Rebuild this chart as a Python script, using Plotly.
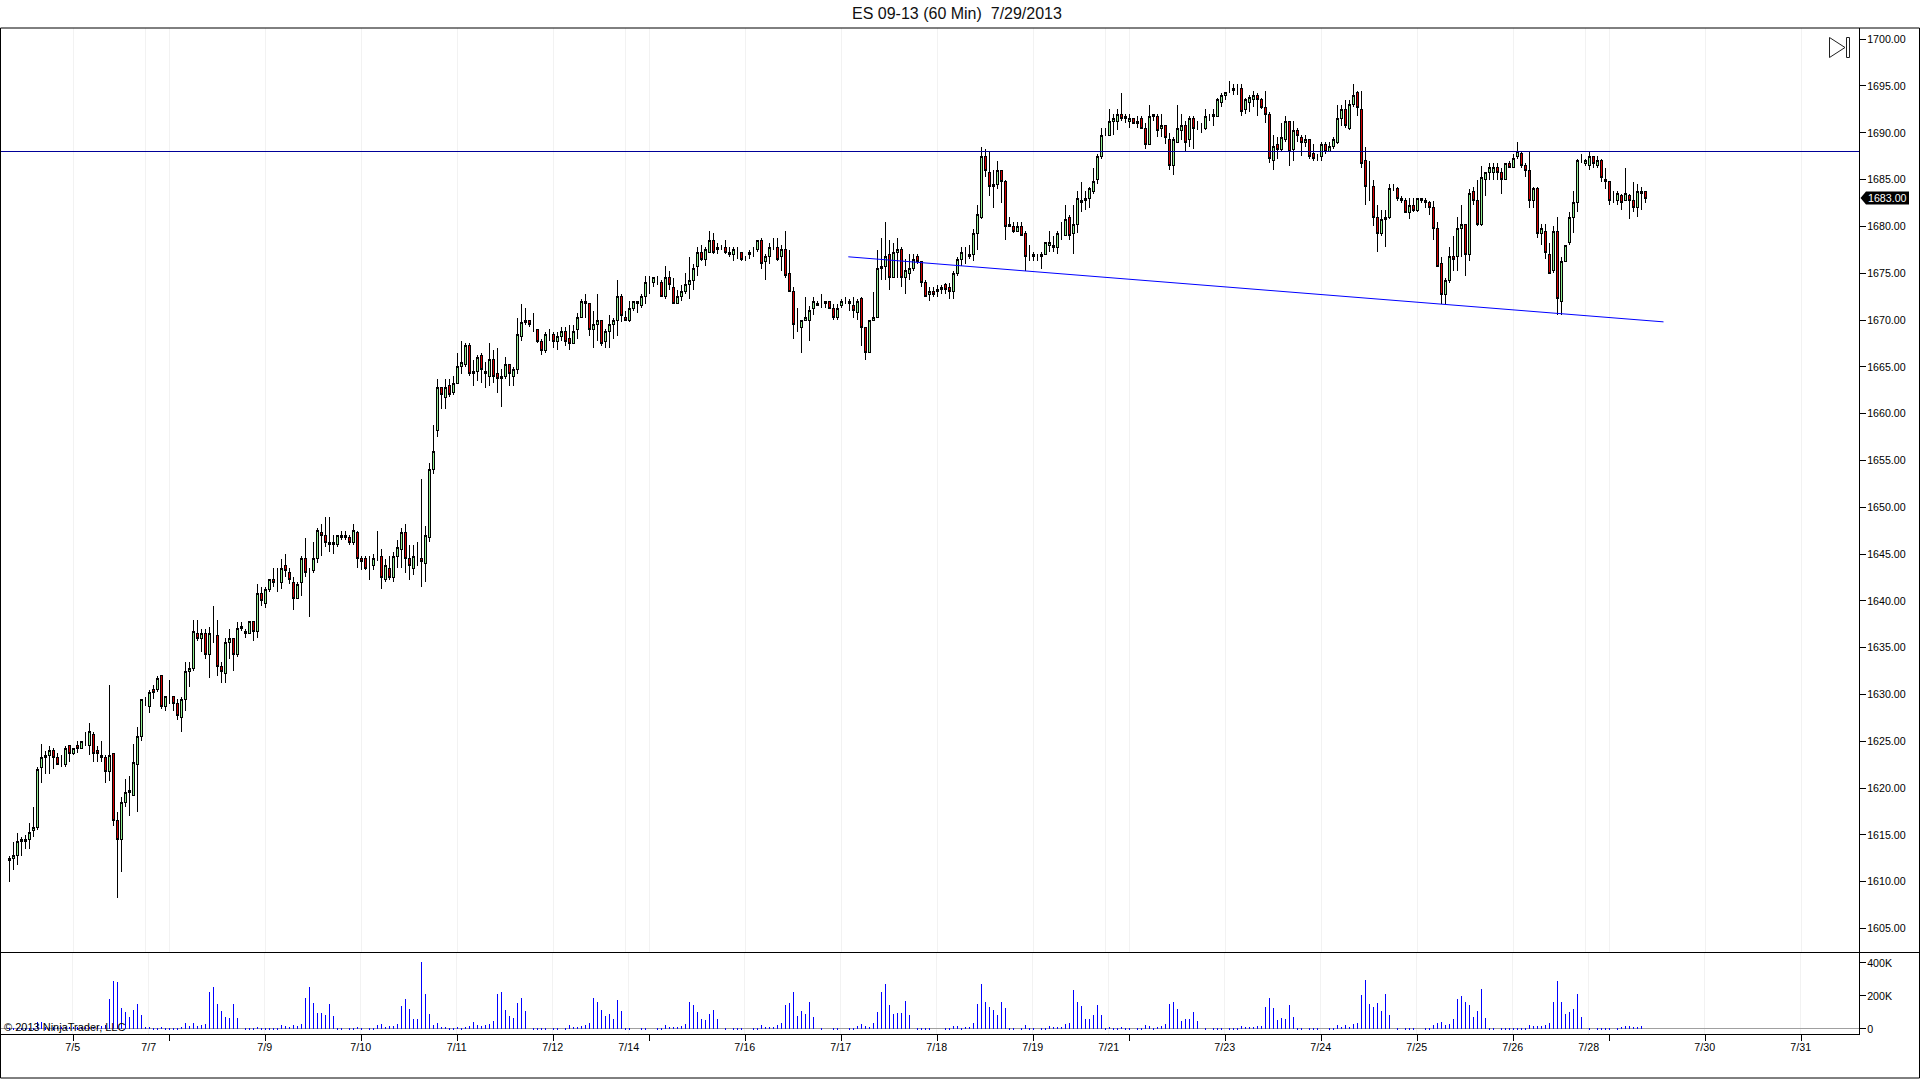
import plotly.graph_objects as go

opens = [
1612.25,1612.5,1612.75,1614.25,1614.25,1614.5,1615.5,1615.75,1622.25,1623.25,
1623.5,1624,1623.25,1622.5,1622.5,1624.5,1623.75,1624.5,1624.25,1625,
1624.5,1625.75,1624,1623.5,1623.25,1621.75,1623.75,1616.5,1614.5,1618.5,
1619.75,1619.25,1622.5,1625.5,1629.5,1628.75,1630.5,1630.5,1632,1628.75,
1629.75,1629.75,1629,1627.5,1629.5,1632.5,1632.75,1636.5,1636,1636.5,
1634.25,1636.25,1636.25,1633,1632.25,1635.5,1636,1634.25,1637.25,1636.75,
1636.5,1637.75,1636.75,1640.75,1639.75,1641.25,1642.25,1642,1642,1643.75,
1643,1642,1640.25,1642,1644.5,1643.25,1643.25,1644.5,1647.25,1647,
1646,1646.25,1646,1647,1647,1646.75,1646.25,1647.25,1644.5,1644.5,
1643.75,1643.75,1644.75,1644.75,1642.25,1643.5,1642.5,1644.75,1645.5,1647.25,
1644.5,1643.5,1645,1644.5,1644,1646.75,1654,1658.25,1662.75,1661.75,
1663,1662.25,1663.25,1665,1665.25,1667.25,1664.25,1664.5,1666.25,1664.5,
1664,1665.75,1664.25,1663.75,1664,1665.25,1664,1664.75,1668.25,1669.75,
1670,1669,1669,1667.75,1666.75,1668.5,1668.5,1667.75,1668.25,1668.75,
1668,1667.5,1669,1670.25,1672,1671.75,1669,1669.5,1670,1667.75,
1668.75,1669.5,1670,1672.5,1670.25,1670,1671.25,1672,1671.5,1672.5,
1674,1674,1674.25,1674,1672.5,1674.5,1673.5,1671.75,1672.5,1673,
1673.75,1674.25,1675.75,1677.25,1676.5,1677.25,1678.5,1677.5,1677.5,1677.75,
1677.25,1677,1677.25,1677.25,1676.75,1677,1677.25,1677.5,1678.5,1676.25,
1676.75,1677.75,1677.75,1676.75,1677.5,1675,1673,1669.5,1669.25,1670,
1670,1671.25,1671.75,1671.75,1671.75,1672,1671.25,1670.25,1671.5,1672,
1672,1671.5,1670.75,1672.25,1669.25,1666.5,1670,1670.25,1675.5,1675.75,
1677,1674.5,1677.25,1677.5,1674.5,1675,1675.5,1676.75,1676.25,1674,
1672.75,1673,1673,1673.25,1673.75,1673.5,1673,1675,1676.5,1677,
1676.75,1677,1679.25,1681,1687.5,1685.75,1684.25,1684.5,1686,1684.75,
1680.25,1680,1679.5,1680,1679.25,1676.75,1677,1676.75,1676.75,1677,
1678,1678,1677.75,1679,1679,1681,1679.25,1680.25,1682.75,1682.75,
1683,1683.75,1685,1687.5,1689.75,1689.75,1691.25,1691.25,1692,1691.75,
1691.25,1691.5,1691,1691.5,1690.5,1688.75,1692,1691.75,1690.5,1690.75,
1689.25,1686.5,1689,1690.25,1690.75,1689.25,1691.5,1690.75,1690.75,1690.5,
1691.75,1691.75,1691.75,1693.25,1694,1694.75,1694.75,1694.5,1694.75,1692.5,
1693.25,1693.5,1694,1693.5,1692.75,1692,1687,1688.75,1688.25,1689.25,
1691.25,1688.25,1690.25,1689.5,1689,1689.25,1687.75,1687.5,1687.5,1688.75,
1688,1688.5,1689,1691.5,1692.5,1690.5,1693,1694.25,1692.5,1687,
1684.5,1684.25,1681,1679.25,1680.75,1681,1684,1684,1683,1682.75,
1681.5,1682.25,1681.75,1683,1682.75,1682.5,1682,1679.75,1676,1672.75,
1674.25,1676.75,1676.75,1679.75,1680.25,1677,1683.75,1682.75,1680.25,1685,
1685.75,1685.75,1686.25,1685.75,1685,1686.75,1686.25,1687.5,1687.75,1686.5,
1686,1682.75,1684,1679.25,1679.5,1677,1675.25,1679.5,1672,1676.25,
1678.25,1681,1682.5,1687,1686.75,1686.5,1687.5,1686.5,1687,1685,
1684.75,1683,1682.75,1683.25,1682.75,1683.25,1682.75,1682,1683.75,1683.75,
]

highs = [
1612.75,1614.25,1615.25,1614.75,1615,1616.25,1618,1622.25,1624.75,1624,
1624.5,1624.25,1623.75,1623.5,1624.5,1624.5,1624.25,1625,1625,1626,
1627,1626,1624.5,1625,1623.5,1631,1623.75,1617.5,1619,1621,
1621.25,1624.75,1626.5,1629.5,1629.75,1630.5,1631,1632,1632,1629.75,
1631.5,1629.75,1629.5,1629.75,1633.5,1633.5,1638,1638,1637,1637,
1637.25,1639.5,1638,1633.5,1636,1637,1636,1637.75,1637.75,1637,
1637.75,1637.75,1641.75,1641.5,1641.5,1642.25,1643.5,1643.5,1644.5,1645,
1643.5,1642.5,1642,1644.75,1646.75,1643.5,1646.25,1647.75,1648.25,1649,
1649,1647,1647,1647.5,1647.5,1647,1648.25,1647.5,1644.75,1644.75,
1644.75,1645,1647.5,1645.5,1644.5,1644.75,1645.25,1646.5,1647.75,1648.25,
1646,1646,1646.25,1653,1648,1654.75,1658.75,1663.75,1662.75,1663.75,
1663.75,1664,1666.5,1667.75,1667.5,1667.5,1665.75,1666.25,1666.5,1665.5,
1667.5,1666.75,1667,1664.75,1666,1665.25,1665,1670.25,1671.75,1671.25,
1670,1670.75,1669,1668,1668.75,1669,1668.75,1668.75,1669.25,1669.25,
1669.5,1669.5,1670.75,1672.25,1672.75,1671.75,1671,1672.75,1670,1669,
1670.5,1670.25,1674.25,1672.75,1671,1672,1672,1672,1672.75,1674.75,
1674.75,1674.5,1674.75,1674.25,1675.75,1675.25,1674.5,1673.25,1673.75,1675,
1676.75,1676,1677.75,1678,1677.75,1679.5,1679.25,1678.25,1678,1678.5,
1677.75,1677.75,1677.75,1677.25,1676.75,1677.5,1677.75,1678.5,1678.75,1677,
1678.25,1678.75,1678.75,1678,1679.5,1677.5,1673.5,1671.25,1670,1672.5,
1671.5,1672.5,1672,1672.75,1672,1672,1671.75,1671.75,1672.25,1672.5,
1672.25,1672.5,1672.25,1672.5,1669.25,1670,1673,1677.5,1678.75,1680.5,
1678.5,1678.25,1678.75,1677.75,1676.5,1677,1677,1677,1676.25,1674.25,
1673.5,1673.5,1673.75,1673.75,1674,1674,1675.25,1676.75,1677.75,1677.75,
1678,1679.75,1682.25,1688.5,1688.25,1688,1686,1687,1686,1685,
1681,1680.5,1680.5,1680.5,1679.5,1678,1677.25,1677,1677.25,1678.25,
1679.5,1679,1679.5,1680.5,1682.25,1681.25,1682.25,1683.75,1684.75,1683.75,
1684.25,1686.25,1687.75,1690.5,1690.5,1692.5,1692,1692.5,1694.25,1692,
1692,1691.5,1691.75,1691.75,1691,1693,1692,1692,1692,1690.75,
1690,1689.5,1693,1692,1691.25,1691.75,1691.75,1691.25,1691,1692.5,
1692,1692.5,1693.75,1694.25,1694.25,1695.5,1695.25,1695.25,1695.25,1693.75,
1694,1694.5,1694.25,1693.75,1694.5,1692.25,1689.75,1689.5,1691,1691.75,
1691.25,1691.25,1690.5,1689.75,1689.75,1689.25,1688.75,1687.75,1689,1689,
1689,1689.5,1693,1693,1693.5,1693.5,1695.25,1694.5,1694.5,1688.5,
1687,1685,1682.25,1681.75,1681.75,1684.5,1684.5,1684.25,1683.25,1683,
1683,1683,1683,1683,1683,1682.75,1682.75,1680.5,1676.75,1674.5,
1677.75,1679,1681,1682.25,1680.25,1684,1684.25,1685,1686.5,1685.75,
1686.75,1686.75,1686.75,1686.25,1686.75,1687,1687.75,1689,1688,1686.75,
1688,1684.25,1684.25,1680.25,1680.25,1678.25,1680,1681,1676.75,1678,
1681.5,1683.75,1687.25,1687.75,1687.25,1688,1687.5,1687.5,1687.25,1686.25,
1684.75,1683.75,1683.75,1683.5,1686.25,1683.5,1684.75,1684.5,1684.25,1683.75,
]

lows = [
1610,1611.25,1611.75,1612.75,1613.5,1613.5,1614.75,1615.5,1620.5,1621.5,
1621.5,1622,1622.5,1622.25,1622.25,1622.75,1623.5,1623.75,1624.25,1624.5,
1623.5,1622.75,1622.75,1622.75,1620.5,1620.75,1616,1608.25,1611,1618,
1617,1619.25,1617.5,1625,1628.75,1628,1629.5,1630.25,1628.5,1628.25,
1629,1628.25,1627.25,1626,1628.25,1630.75,1632.5,1635.75,1634.5,1633.75,
1631.75,1635.5,1632,1631.25,1631.25,1633.75,1632.5,1634,1636.75,1636,
1636.5,1635.75,1636,1639.5,1639.25,1641,1641.5,1641,1641.25,1642.5,
1641.75,1639,1640.25,1640.5,1642.5,1638.25,1643,1644,1644.75,1645.75,
1645.25,1645,1645.75,1646.5,1646.5,1646,1646,1643.5,1643.25,1643.25,
1642.25,1643.25,1644.25,1641.25,1642,1642.25,1642,1643.5,1643.5,1643,
1642.25,1642.75,1643.75,1641.5,1642,1646.25,1653.5,1657.5,1660.5,1660.5,
1661.75,1662,1663.25,1664.25,1665,1664,1663,1663.5,1663.25,1662.75,
1663,1663.25,1662.25,1660.75,1663.75,1663,1663,1664.25,1667.75,1669.5,
1669.25,1668.75,1667.5,1666.25,1666.5,1667.75,1667,1666.75,1667.75,1667.25,
1666.75,1667.5,1668,1670.25,1670.25,1668.25,1667,1667.75,1667.25,1667,
1667,1668,1668.25,1669.75,1670,1669.75,1671,1670.75,1671.25,1671.75,
1672.75,1673.5,1673.75,1672.5,1672.25,1673.25,1671.75,1671.75,1672,1672.75,
1672.25,1673.25,1674.75,1676.25,1675.75,1677.25,1677,1677,1677.5,1677,
1676.75,1676.25,1676.5,1676.25,1676.25,1676.5,1676.75,1677.25,1675.5,1674.25,
1676,1677.5,1676.25,1675.25,1674.5,1673,1668,1668.75,1666.5,1670,
1667.75,1670.5,1671.5,1671.25,1671.25,1671.25,1670,1670,1671.25,1671.75,
1671,1670.25,1670,1667.25,1665.75,1666.5,1670,1670.25,1674.25,1674.25,
1673.25,1674.5,1674.5,1673.5,1672.75,1674.25,1675.25,1676,1673.5,1672.5,
1672,1672.5,1672.5,1672.75,1672.75,1672.25,1672.25,1674.75,1675.75,1676,
1676.5,1676.25,1677.5,1680.75,1685.25,1683.25,1682,1684,1682.5,1678.5,
1680,1679.25,1679.5,1679,1675.25,1676.25,1676.25,1676.25,1675.5,1677,
1677.25,1677.25,1677,1678.5,1679,1678.5,1677,1679.25,1681.5,1681.75,
1682,1683.5,1684.5,1687.25,1689.75,1689.75,1689.75,1690.25,1691.25,1691,
1690.5,1691,1690.5,1690.5,1688.25,1688.75,1691.25,1689.5,1689.5,1688.75,
1686,1685.5,1689,1689.25,1688,1688.5,1688.25,1690.25,1690,1690.25,
1691.25,1690.75,1691.75,1692.75,1693.5,1694.25,1694,1694,1691.75,1692,
1692.25,1692.75,1691.75,1692.5,1691,1686.75,1686,1687.25,1688,1689,
1686.5,1687,1689,1687.5,1688.5,1687.25,1687,1687,1687,1687.75,
1688,1688.25,1688.75,1690.75,1690.5,1690.25,1692.75,1691.75,1686.25,1682.25,
1682.75,1680,1677.25,1679,1677.75,1680.75,1683.75,1682.75,1682.5,1681.5,
1680.75,1681.5,1681.5,1682.5,1682,1681.25,1678.5,1675.75,1671.75,1671.75,
1674,1675.25,1675.25,1676.75,1674.75,1676.25,1682.25,1680,1680,1683.25,
1685,1685,1685,1683.5,1685,1686.25,1686.25,1687.25,1686.25,1685.25,
1682,1682,1678.75,1678,1676.5,1675,1675,1670.5,1670.5,1676.25,
1678,1679.25,1681.5,1686.75,1686.5,1686,1686.25,1686.25,1684.75,1684,
1682.25,1682.5,1682.25,1681.75,1682.75,1680.75,1681.5,1681,1681.75,1682.5,
]

closes = [
1612.5,1612.75,1614.25,1614.5,1614.5,1615.25,1615.75,1622,1623.25,1623.5,
1624,1623.25,1622.5,1622.5,1624.25,1623.75,1624.25,1624.25,1625,1625,
1626,1623.75,1623.75,1623.25,1621.75,1623.5,1616.5,1614.5,1618.5,1619.5,
1619.5,1622.75,1625.5,1629.5,1629.5,1630.25,1630.25,1631.75,1628.75,1629.75,
1629.75,1629,1627.75,1629.5,1632.5,1632.75,1636.75,1636,1636.5,1634.25,
1636.5,1636.25,1633,1632.5,1635.5,1636,1634.25,1637,1637,1636.5,
1637.75,1636.75,1640.75,1640,1641.25,1642.25,1642,1642,1643.5,1643.25,
1642.25,1640.25,1641.75,1644.5,1643,1643.25,1644.5,1647.5,1647,1646.25,
1646.25,1646,1647,1646.75,1646.75,1646.25,1647.5,1644.5,1644.25,1643.5,
1643.75,1644.5,1644.75,1642.5,1643.75,1642.5,1644.75,1645.75,1647.25,1644.5,
1643.75,1644.75,1645,1644.25,1647,1654,1656,1662.75,1662,1662.75,
1662,1663.25,1665,1665.5,1667.25,1664.25,1664.5,1666,1664.75,1664.25,
1665.75,1664,1663.75,1664,1665.25,1664.25,1664.75,1668.5,1669.75,1670,
1669.5,1669,1667.75,1666.75,1668.5,1668.5,1667.75,1668.25,1668.75,1667.75,
1667.5,1668.75,1670.25,1672,1671.75,1669,1669.5,1670,1667.5,1668.75,
1669.5,1670,1672.5,1670.5,1670,1671.25,1672,1671.75,1672.5,1674,
1674,1674.5,1674.25,1672.5,1674.5,1673.75,1671.75,1672.5,1673,1673.75,
1674.25,1675.5,1677.25,1676.5,1677.5,1678.5,1677.25,1677.75,1677.5,1677.25,
1677,1677.5,1677.25,1676.5,1676.75,1677.25,1677.25,1678.5,1676,1676.75,
1677.75,1677.75,1676.5,1677.5,1674.75,1673,1669.5,1669.5,1670,1670.25,
1671,1672,1671.5,1671.75,1672,1671.25,1670.25,1671.25,1672,1672,
1671.75,1671,1672,1669.25,1666.5,1670,1670.25,1675.5,1675.75,1676.75,
1674.5,1677.25,1677.5,1674.5,1675.25,1675.5,1676.5,1676.25,1674,1672.5,
1673,1672.75,1673.25,1673.5,1673.25,1673,1675,1676.5,1677.25,1677,
1677,1679.25,1681.25,1687.5,1686,1684.25,1684.5,1686,1684.75,1680,
1680,1679.5,1680,1679,1676.75,1676.75,1676.75,1676.75,1677,1678.25,
1678.25,1677.75,1679.25,1679,1680.75,1679,1680.25,1683,1682.5,1683,
1684,1684.75,1687.5,1689.75,1689.75,1691.25,1691.5,1692,1691.5,1691.5,
1691.5,1691,1691.25,1690.5,1688.75,1691.75,1691.75,1690.25,1690.75,1689.5,
1686.5,1689.25,1690.5,1690.75,1689,1691.5,1690.5,1690.75,1690.75,1691.75,
1691.75,1692,1693.5,1694,1694.25,1694.75,1694.5,1694.5,1692.25,1693.5,
1693.75,1694,1693.5,1692.75,1692,1687.25,1688.5,1688.25,1689.5,1691.25,
1688,1690.25,1689.75,1689,1689.25,1687.5,1687.25,1687.5,1688.75,1688,
1688.5,1689.25,1691.5,1692.5,1690.75,1693,1694,1692.75,1686.75,1684.25,
1684.5,1681,1679.25,1680.75,1681,1684,1684,1683,1682.75,1681.5,
1682.25,1681.75,1683,1682.75,1682.5,1682,1679.75,1675.75,1672.75,1674.25,
1676.75,1676.5,1679.75,1680.25,1677,1683.5,1682.75,1680.25,1685.25,1685.75,
1686.25,1686.25,1685.75,1685,1686.75,1686.25,1687.25,1688,1686.5,1686,
1682.75,1684,1679.25,1679.75,1677.25,1675,1679.5,1672.25,1676.25,1678,
1681,1682.5,1687,1687,1687,1687.5,1686.75,1687,1685.25,1684.75,
1682.75,1683,1683.5,1682.5,1683.5,1682.75,1682,1683.75,1683.5,1683,
]

volume_k = [
8,8,8,8,8,10,10,42,46,12,14,12,16,16,14,16,16,12,14,14,16,16,22,22,28,
186,296,289,131,107,77,119,156,89,14,16,10,10,16,10,10,10,10,16,40,22,40,22,28,34,
228,259,156,113,77,71,156,71,0,10,10,10,16,10,10,10,10,10,28,22,16,28,22,34,192,
259,162,101,101,89,156,83,10,10,0,10,10,16,10,0,10,10,28,34,16,22,22,34,143,186,
125,65,65,410,216,95,28,40,16,16,10,10,16,
10,16,22,46,28,22,28,34,53,216,228,119,83,71,162,192,113,0,10,10,10,10,0,10,10,
0,10,28,16,16,22,28,40,192,168,119,83,95,65,180,113,10,10,0,0,10,10,0,0,10,
10,28,16,16,16,22,34,168,150,107,65,59,95,119,65,0,10,0,10,10,10,0,0,10,10,
28,16,16,16,28,40,150,162,228,83,113,95,168,77,0,10,0,0,10,10,0,0,10,10,22,
34,22,16,40,107,228,277,150,95,101,101,174,89,0,10,
10,10,10,0,0,0,10,10,22,22,10,16,16,40,156,277,168,137,119,89,168,131,10,10,0,
10,28,10,10,0,10,10,22,16,16,16,34,40,240,168,143,65,65,89,150,89,10,16,10,10,
16,10,10,0,10,10,28,22,10,16,22,34,156,168,125,53,65,65,107,53,0,10,0,10,10,
10,0,10,10,10,22,16,16,16,22,22,137,192,131,59,71,65,150,77,10,10,0,10,10,10,
0,0,10,10,28,16,28,16,34,40,210,301,156,137,162,
113,216,89,0,10,0,10,10,10,0,0,10,10,28,40,46,28,34,65,186,204,168,150,77,113,
246,71,10,10,0,10,10,10,10,10,10,10,28,22,22,22,28,40,168,295,168,95,107,125,216,
77,0,10,0,10,10,10,10,0,10,16,22,22,16,16,22,0,
]

price_ticks = [1605,1610,1615,1620,1625,1630,1635,1640,1645,1650,1655,1660,1665,1670,1675,1680,1685,1690,1695,1700]
volume_ticks = [0,200,400]
volume_tick_text = ["0","200K","400K"]
date_positions = [15.8,34.8,63.8,87.8,111.8,135.8,154.8,183.8,207.8,231.8,255.8,274.8,303.8,327.8,351.8,375.8,394.8,423.8,447.8]
date_labels = ["7/5","7/7","7/9","7/10","7/11","7/12","7/14","7/16","7/17","7/18","7/19","7/21","7/23","7/24","7/25","7/26","7/28","7/30","7/31"]
hour_ticks = [16,40,64,88,112,136,160,184,208,232,256,280,304,328,352,376,400,424,448]
grid_positions = [16,34,40,64,88,112,136,154,160,184,208,232,256,274,280,304,328,352,376,394,400,424,448]
resistance_level = [1688.0,1688.0]
trend_index = [209.7,413.5]
trend_price = [1676.75,1669.8]
last_price = 1683.00

W, H = 1920, 1079
assert len(opens)==len(highs)==len(lows)==len(closes)==len(volume_k)==410, (len(opens),len(highs),len(lows),len(closes),len(volume_k))
idx = list(range(len(opens)))
xr = [-2.375, 462.375]
def px(x): return x/W
def py(y): return 1-y/H

fig = go.Figure()
fig.add_trace(go.Candlestick(x=idx, open=opens, high=highs, low=lows, close=closes,
    increasing=dict(line=dict(color="black",width=1), fillcolor="#90EE90"),
    decreasing=dict(line=dict(color="black",width=1), fillcolor="#D40000"),
    whiskerwidth=0, hoverinfo="skip", showlegend=False, xaxis="x", yaxis="y"))
fig.add_trace(go.Scatter(x=xr, y=resistance_level, mode="lines", line=dict(color="#000098",width=1),
    hoverinfo="skip", showlegend=False, xaxis="x", yaxis="y"))
fig.add_trace(go.Scatter(x=trend_index, y=trend_price, mode="lines", line=dict(color="#0000FF",width=1),
    hoverinfo="skip", showlegend=False, xaxis="x", yaxis="y"))
fig.add_trace(go.Bar(x=idx, y=volume_k, width=0.25, marker=dict(color="#0000FF",line=dict(width=0)),
    hoverinfo="skip", showlegend=False, xaxis="x2", yaxis="y2"))

font = dict(family="Liberation Sans, Arial", size=10.67, color="#000000")
x_dom = [0, 1859/W]
shapes = [
    dict(type="rect",xref="paper",yref="paper",x0=px(0.5),x1=px(1919.5),y0=py(28),y1=py(1078),line=dict(color="black",width=1),layer="above"),
    dict(type="line",xref="paper",yref="paper",x0=0,x1=1,y0=py(952.5),y1=py(952.5),line=dict(color="black",width=1)),
    dict(type="path",xref="paper",yref="paper",
         path=f"M {px(1829.5)} {py(37.5)} L {px(1845)} {py(47.5)} L {px(1829.5)} {py(57.5)} Z",line=dict(color="#202020",width=1),fillcolor="white"),
    dict(type="rect",xref="paper",yref="paper",x0=px(1846.5),x1=px(1849.5),y0=py(37.5),y1=py(57.5),line=dict(color="#202020",width=1),fillcolor="white"),
    dict(type="path",xref="paper",yref="paper",
         path=f"M {px(1860.5)} {py(198)} L {px(1866)} {py(191.5)} L {px(1909)} {py(191.5)} L {px(1909)} {py(204.5)} L {px(1866)} {py(204.5)} Z",
         line=dict(width=0),fillcolor="black"),
]
annotations = [
    dict(text="ES 09-13 (60 Min) \u00a07/29/2013",xref="paper",yref="paper",x=px(956.5),y=py(13),showarrow=False,
         font=dict(family="Liberation Sans, Arial",size=16,color="#101010"),xanchor="center",yanchor="middle"),
    dict(text=f"{last_price:.2f}",xref="paper",yref="paper",x=px(1887),y=py(198),showarrow=False,
         font=dict(family="Liberation Sans, Arial",size=10.67,color="white"),xanchor="center",yanchor="middle"),
    dict(text="\u00a9 2013 NinjaTrader, LLC",xref="paper",yref="paper",x=px(2),y=py(1027),showarrow=False,
         font=dict(family="Liberation Sans, Arial",size=11,color="#000000"),xanchor="left",yanchor="middle"),
]

fig.update_layout(
    width=W,height=H,margin=dict(l=0,r=0,t=0,b=0),paper_bgcolor="white",plot_bgcolor="white",
    showlegend=False,bargap=0,shapes=shapes,annotations=annotations,
    xaxis=dict(domain=x_dom,range=xr,anchor="y",rangeslider=dict(visible=False),showticklabels=False,ticks="",
               tickmode="array",tickvals=grid_positions,showgrid=True,gridcolor="#F2F2F2",gridwidth=1,zeroline=False,showline=False),
    yaxis=dict(domain=[py(952.5),py(28)],range=[1602.44,1701.19],side="right",anchor="x",tickmode="array",tickvals=price_ticks,
               tickformat=".2f",ticks="outside",ticklen=6,tickcolor="black",tickfont=font,showgrid=False,zeroline=False,
               showline=True,linecolor="black",linewidth=1,ticklabelstandoff=-1),
    xaxis2=dict(domain=x_dom,range=xr,anchor="y2",tickmode="array",tickvals=date_positions,ticktext=date_labels,tickangle=0,
                ticks="",tickfont=font,showgrid=True,gridcolor="#F2F2F2",zeroline=False,showline=True,linecolor="black",linewidth=1,
                ticklabelstandoff=4,
                minor=dict(tickmode="array",tickvals=hour_ticks,ticks="outside",ticklen=6,tickcolor="black",showgrid=False)),
    yaxis2=dict(domain=[py(1033.5),py(952.5)],range=[-27.9,463],side="right",anchor="x2",tickmode="array",tickvals=volume_ticks,
                ticktext=volume_tick_text,ticks="outside",ticklen=6,tickcolor="black",tickfont=font,showgrid=False,
                zeroline=True,zerolinecolor="#A0A0A0",zerolinewidth=1,showline=True,linecolor="black",linewidth=1,ticklabelstandoff=-1),
)
post = ("document.body.style.margin='0';"
        "var s=document.createElement('style');"
        "s.textContent='.boxlayer path{shape-rendering:crispEdges}"
        " .scatterlayer .trace:first-child path.js-line{shape-rendering:crispEdges}';"
        "document.head.appendChild(s);")
fig.write_html("out.html",config={"displayModeBar":False},post_script=post)
